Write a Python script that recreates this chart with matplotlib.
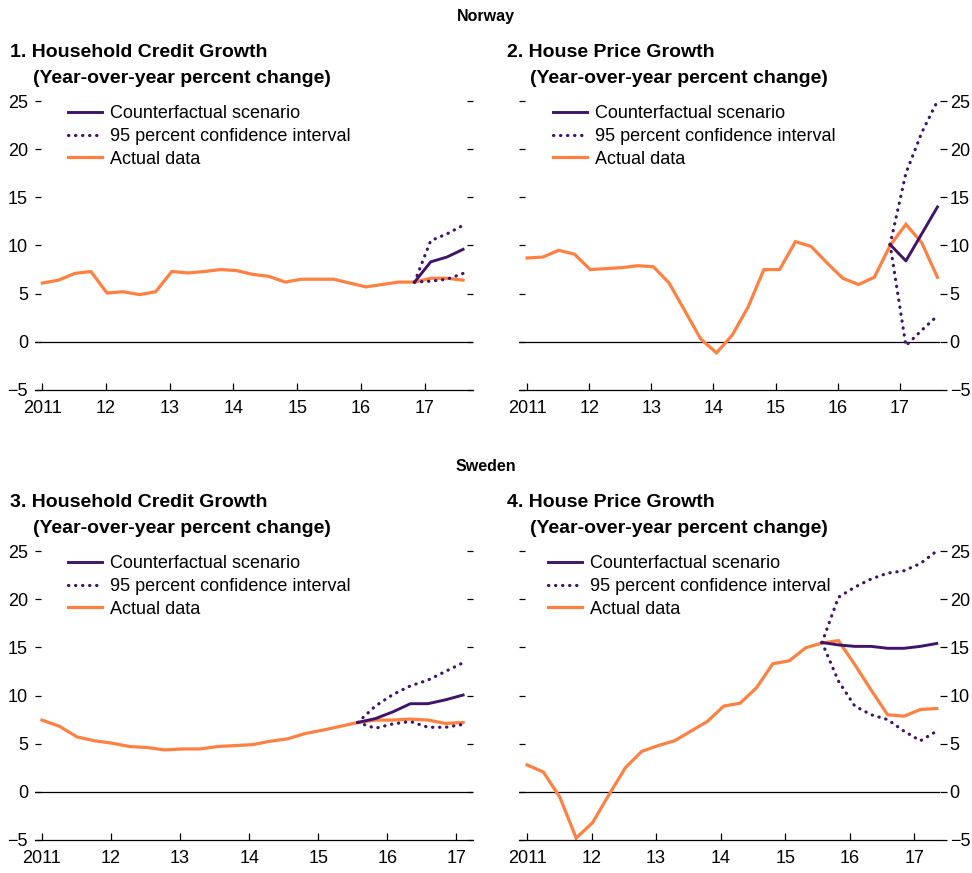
import numpy as np
import matplotlib
matplotlib.use("Agg")
import matplotlib.pyplot as plt
from matplotlib.lines import Line2D

plt.rcParams['font.family'] = ['Liberation Sans', 'DejaVu Sans']

PURPLE = '#3f1469'
ORANGE = '#ff8040'

# quarterly observations, 2011Q1 onward
nor_credit_actual = [6.1, 6.4, 7.1, 7.3, 5.06, 5.2, 4.9, 5.2, 7.3, 7.15, 7.3, 7.5, 7.4, 7.0,
                     6.8, 6.2, 6.5, 6.5, 6.5, 6.1, 5.7, 5.95, 6.2, 6.2, 6.6, 6.6, 6.4]
nor_credit_cf = [6.2, 8.3, 8.8, 9.6]
nor_credit_hi = [6.2, 10.5, 11.2, 12.1]
nor_credit_lo = [6.2, 6.3, 6.5, 7.1]

nor_house_actual = [8.7, 8.8, 9.5, 9.1, 7.5, 7.6, 7.7, 7.9, 7.8, 6.1, 3.2, 0.3, -1.15, 0.7,
                    3.6, 7.5, 7.5, 10.4, 9.9, 8.2, 6.6, 5.95, 6.7, 10.0, 12.2, 10.3, 6.7]
nor_house_cf = [10.1, 8.4, 11.2, 14.0]
nor_house_hi = [10.1, 17.5, 21.7, 25.0]
nor_house_lo = [10.1, -0.4, 1.2, 2.7]

swe_credit_actual = [7.45, 6.8, 5.7, 5.3, 5.05, 4.7, 4.6, 4.35, 4.45, 4.45, 4.7, 4.8, 4.9,
                     5.25, 5.5, 6.05, 6.4, 6.8, 7.2, 7.45, 7.45, 7.55, 7.45, 7.1, 7.2]
swe_credit_cf = [7.2, 7.6, 8.3, 9.15, 9.15, 9.55, 10.05]
swe_credit_hi = [7.2, 8.9, 10.1, 11.0, 11.6, 12.5, 13.4]
swe_credit_lo = [7.2, 6.6, 7.05, 7.3, 6.7, 6.7, 7.0]

swe_house_actual = [2.8, 2.05, -0.55, -4.8, -3.2, -0.3, 2.5, 4.2, 4.8, 5.3, 6.3, 7.3, 8.9,
                    9.2, 10.8, 13.3, 13.6, 14.95, 15.45, 15.7, 13.2, 10.55, 8.0, 7.85, 8.55, 8.65]
swe_house_cf = [15.5, 15.25, 15.1, 15.1, 14.9, 14.9, 15.1, 15.4]
swe_house_hi = [15.5, 20.2, 21.25, 22.1, 22.7, 22.95, 23.7, 25.0]
swe_house_lo = [15.5, 11.5, 8.9, 8.0, 7.5, 6.3, 5.3, 6.3]

year_ticks = [2011, 2012, 2013, 2014, 2015, 2016, 2017]
year_labels = ['2011', '12', '13', '14', '15', '16', '17']
y_ticks = [-5, 0, 5, 10, 15, 20, 25]

QSTEP = 0.254
W, H = 972, 873

fig = plt.figure(figsize=(W / 100, H / 100), dpi=100)


def add_ax(x0, x1, ytop, ybot):
    return fig.add_axes([x0 / W, 1 - ybot / H, (x1 - x0) / W, (ybot - ytop) / H])


def panel(ax, actual, cf, hi, lo, start, xlim, label_side):
    t = 2011 + QSTEP * np.arange(len(actual))
    tc = 2011 + QSTEP * (start + np.arange(len(cf)))
    ax.axhline(0, color='black', lw=0.9, zorder=1)
    ax.plot(t, actual, color=ORANGE, lw=2.3, solid_joinstyle='miter', zorder=2)
    ax.plot(tc, cf, color=PURPLE, lw=2.1, zorder=3)
    for band in (hi, lo):
        ax.plot(tc, band, color=PURPLE, lw=2.3, linestyle=(0, (0.1, 2.1)),
                dash_capstyle='round', zorder=3)
    ax.set_xlim(*xlim)
    ax.set_ylim(-5, 25)
    for s in ('top', 'left', 'right'):
        ax.spines[s].set_visible(False)
    ax.spines['bottom'].set_linewidth(0.9)
    ax.set_xticks(year_ticks)
    ax.set_xticklabels(year_labels)
    ax.tick_params(axis='x', direction='in', length=5, width=0.9, labelsize=13, pad=7)
    ax.set_yticks(y_ticks)
    ax.set_yticklabels([str(v).replace('-', '\u2212') for v in y_ticks])
    if label_side == 'left':
        ax.tick_params(axis='y', direction='in', left=True, right=True, length=4.5,
                       width=0.9, labelsize=13, pad=5)
    else:
        ax.tick_params(axis='y', direction='in', left=True, right=False, labelleft=False,
                       length=4.5, width=0.9)
        ax2 = ax.twinx()
        ax2.set_ylim(-5, 25)
        ax2.set_yticks(y_ticks)
        ax2.set_yticklabels([str(v).replace('-', '\u2212') for v in y_ticks])
        ax2.tick_params(axis='y', direction='out', length=5, width=0.9, labelsize=13, pad=2)
        for s in ax2.spines.values():
            s.set_visible(False)
    handles = [
        Line2D([], [], color=PURPLE, lw=2.1),
        Line2D([], [], color=PURPLE, lw=2.3, linestyle=(0, (0.1, 2.1)), dash_capstyle='round'),
        Line2D([], [], color=ORANGE, lw=2.3),
    ]
    names = ['Counterfactual scenario', '95 percent confidence interval', 'Actual data']
    return handles, names


def add_legend(ax, h, n, xa):
    ax.legend(h, n, loc='upper left', bbox_to_anchor=(xa, 0.986), frameon=False, fontsize=13,
              handlelength=1.9, handletextpad=0.45, labelspacing=0.32, borderpad=0,
              borderaxespad=0)


# Norway
ax1 = add_ax(35, 473, 101, 390)
h, n = panel(ax1, nor_credit_actual, nor_credit_cf, nor_credit_hi, nor_credit_lo, 23,
             (2010.885, 2017.76), 'left')
add_legend(ax1, h, n, 0.075)

ax2 = add_ax(519, 940, 101, 390)
h, n = panel(ax2, nor_house_actual, nor_house_cf, nor_house_hi, nor_house_lo, 23,
             (2010.87, 2017.645), 'right')
add_legend(ax2, h, n, 0.08)

# Sweden
ax3 = add_ax(35, 473, 551, 840)
h, n = panel(ax3, swe_credit_actual, swe_credit_cf, swe_credit_hi, swe_credit_lo, 18,
             (2010.9, 2017.24), 'left')
add_legend(ax3, h, n, 0.075)

ax4 = add_ax(519, 940, 551, 840)
h, n = panel(ax4, swe_house_actual, swe_house_cf, swe_house_hi, swe_house_lo, 18,
             (2010.876, 2017.4), 'right')
add_legend(ax4, h, n, 0.068)


# titles
def ftext(x, y, s, **kw):
    fig.text(x / W, 1 - y / H, s, va='baseline', **kw)


ftext(486, 21, 'Norway', ha='center', fontsize=11.5, fontweight='bold')
ftext(486, 471, 'Sweden', ha='center', fontsize=11.5, fontweight='bold')

for x, y, num, name in [(10, 57, '1.', 'Household Credit Growth'),
                        (507, 57, '2.', 'House Price Growth'),
                        (10, 507, '3.', 'Household Credit Growth'),
                        (507, 507, '4.', 'House Price Growth')]:
    ftext(x, y, f'{num} {name}', ha='left', fontsize=14, fontweight='bold')
    ftext(x + 23, y + 26, '(Year-over-year percent change)', ha='left', fontsize=14,
          fontweight='bold')

fig.savefig('out.png', dpi=100)
